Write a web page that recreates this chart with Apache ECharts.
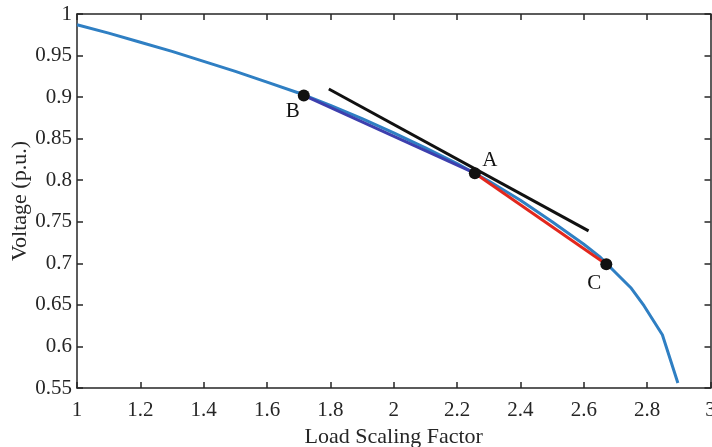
<!DOCTYPE html>
<html>
<head>
<meta charset="utf-8">
<script src="https://cdn.jsdelivr.net/npm/echarts@6/dist/echarts.min.js"></script>
<style>
  html, body { margin: 0; padding: 0; background: #fff; }
  #chart { width: 712px; height: 447px; }
</style>
</head>
<body>
<div id="chart"></div>
<script>
// PV curve (load scaling factor vs. bus voltage)
const loadFactor = [1.0, 1.1, 1.2, 1.3, 1.4, 1.5, 1.6, 1.7, 1.8, 1.9, 2.0, 2.1, 2.2, 2.3, 2.4, 2.5, 2.6, 2.65, 2.7, 2.75, 2.79, 2.848, 2.897];
const voltage    = [0.987, 0.977, 0.966, 0.955, 0.943, 0.931, 0.918, 0.905, 0.890, 0.874, 0.857, 0.839, 0.820, 0.799, 0.776, 0.750, 0.723, 0.708, 0.689, 0.670, 0.649, 0.614, 0.556];

// operating points
const pointNames = ["B", "A", "C"];
const pointX = [1.716, 2.256, 2.671];
const pointV = [0.902, 0.8085, 0.699];

// tangent line at A
const tangentX = [1.795, 2.615];
const tangentV = [0.9098, 0.739];

const xTicks = { min: 1, max: 3, interval: 0.2 };
const yTicks = { min: 0.55, max: 1, interval: 0.05 };

const FONT = "Liberation Serif";
const chart = echarts.init(document.getElementById("chart"));

const curve = loadFactor.map((x, i) => [x, voltage[i]]);
const pt = (i) => [pointX[i], pointV[i]];
const labelOffsets = [[-11, 16], [15, -13], [-12, 19]];

const axisLine = { show: true, lineStyle: { color: "#262626", width: 1.5 } };
const axisTick = { show: true, inside: true, length: 6, lineStyle: { color: "#262626", width: 1.5 } };

const option = {
  animation: false,
  backgroundColor: "#fff",
  grid: { left: 77, right: 1.5, top: 14, bottom: 59, outerBoundsMode: "none", containLabel: false },
  xAxis: [
    {
      type: "value", min: xTicks.min, max: xTicks.max, interval: xTicks.interval,
      name: "Load Scaling Factor", nameLocation: "middle", nameGap: 38, nameMoveOverlap: false,
      nameTextStyle: { fontFamily: FONT, fontSize: 22, color: "#262626" },
      axisLine, axisTick,
      axisLabel: { fontFamily: FONT, fontSize: 21, color: "#262626", margin: 12 },
      splitLine: { show: false }
    },
    {
      type: "value", position: "top", min: xTicks.min, max: xTicks.max, interval: xTicks.interval,
      axisLine, axisTick, axisLabel: { show: false }, splitLine: { show: false }
    }
  ],
  yAxis: [
    {
      type: "value", min: yTicks.min, max: yTicks.max, interval: yTicks.interval,
      name: "Voltage (p.u.)", nameLocation: "middle", nameGap: 46, nameMoveOverlap: false,
      nameTextStyle: { fontFamily: FONT, fontSize: 22, color: "#262626" },
      axisLine, axisTick,
      axisLabel: {
        fontFamily: FONT, fontSize: 21, color: "#262626", margin: 5,
        formatter: (v) => String(Math.round(v * 100) / 100)
      },
      splitLine: { show: false }
    },
    {
      type: "value", position: "right", min: yTicks.min, max: yTicks.max, interval: yTicks.interval,
      axisLine, axisTick, axisLabel: { show: false }, splitLine: { show: false }
    }
  ],
  series: [
    {
      name: "PV curve", type: "line", data: curve, showSymbol: false,
      lineStyle: { color: "#2f7fc3", width: 3 }, z: 2
    },
    {
      name: "BA", type: "line", data: [pt(0), pt(1)], showSymbol: false,
      lineStyle: { color: "#3d3fae", width: 3 }, z: 3
    },
    {
      name: "AC", type: "line", data: [pt(1), pt(2)], showSymbol: false,
      lineStyle: { color: "#e2271d", width: 3 }, z: 3
    },
    {
      name: "tangent", type: "line",
      data: tangentX.map((x, i) => [x, tangentV[i]]), showSymbol: false,
      lineStyle: { color: "#111", width: 3 }, z: 4
    },
    {
      name: "points", type: "scatter", symbolSize: 12, z: 5,
      itemStyle: { color: "#111", opacity: 1 },
      data: pointNames.map((n, i) => ({
        name: n, value: pt(i),
        label: {
          show: true, formatter: n, position: "inside", offset: labelOffsets[i],
          fontFamily: FONT, fontSize: 21, color: "#111"
        }
      }))
    }
  ]
};

chart.setOption(option);
</script>
</body>
</html>
